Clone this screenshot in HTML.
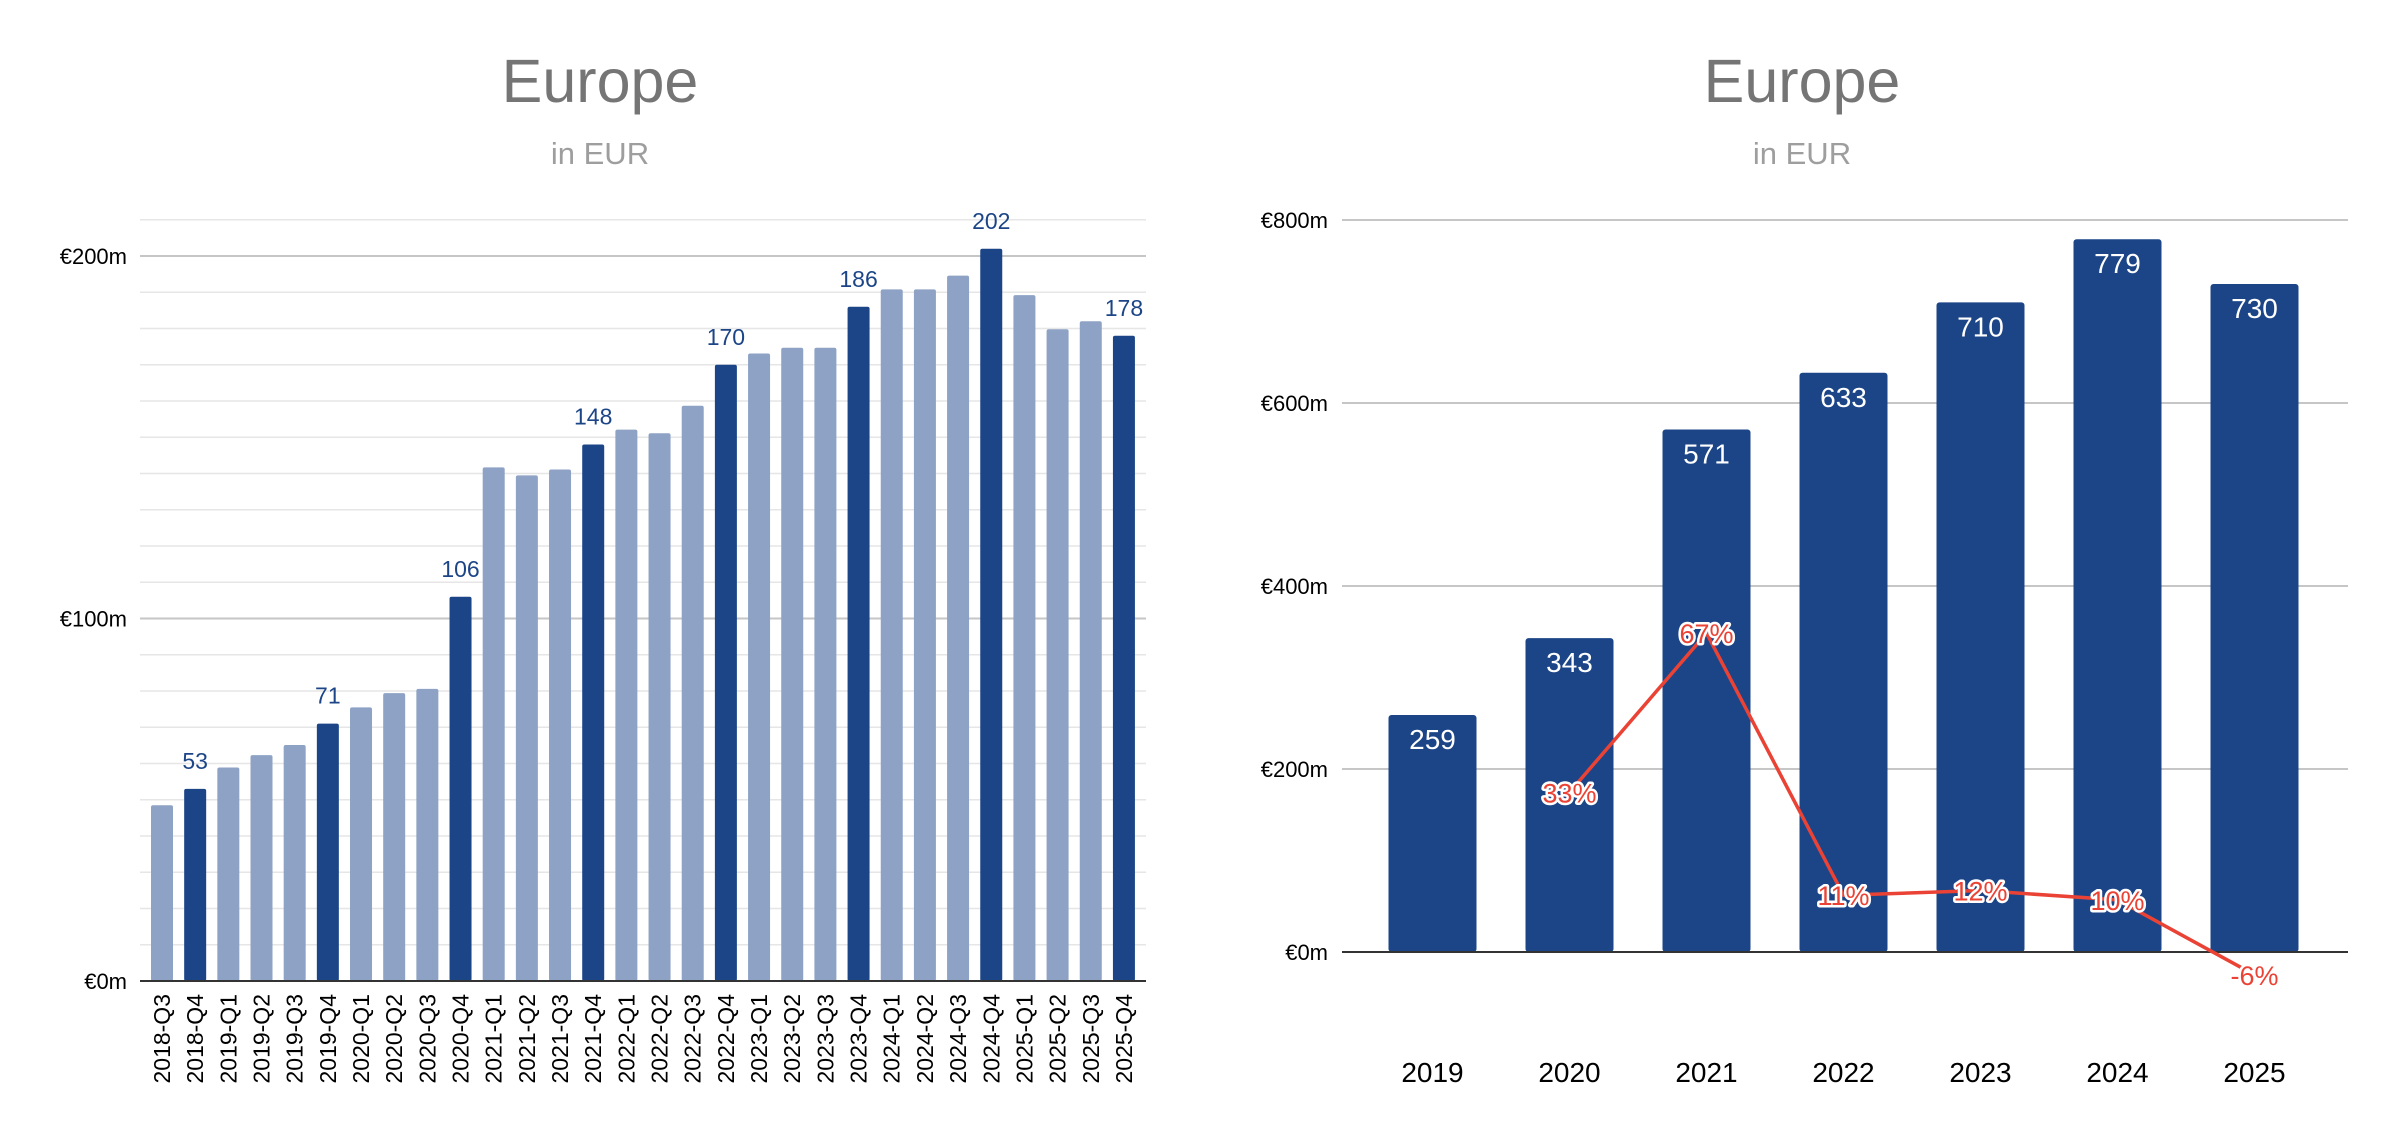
<!DOCTYPE html>
<html><head><meta charset="utf-8"><style>
html,body{margin:0;padding:0;background:#fff;}
svg{display:block;font-family:"Liberation Sans",Arial,sans-serif;}
</style></head><body>
<svg id="svg" width="2393" height="1140" viewBox="0 0 2393 1140" xmlns="http://www.w3.org/2000/svg">
<g id="left">
<text x="600" y="102" text-anchor="middle" font-size="61" fill="#757575">Europe</text>
<text x="600" y="164" text-anchor="middle" font-size="31" fill="#9e9e9e">in EUR</text>
</g>
<g id="right">
<text x="1802" y="102" text-anchor="middle" font-size="61" fill="#757575">Europe</text>
<text x="1802" y="164" text-anchor="middle" font-size="31" fill="#9e9e9e">in EUR</text>
</g>
</svg>
<script>
const qCategories=["2018-Q3","2018-Q4","2019-Q1","2019-Q2","2019-Q3","2019-Q4","2020-Q1","2020-Q2","2020-Q3","2020-Q4","2021-Q1","2021-Q2","2021-Q3","2021-Q4","2022-Q1","2022-Q2","2022-Q3","2022-Q4","2023-Q1","2023-Q2","2023-Q3","2023-Q4","2024-Q1","2024-Q2","2024-Q3","2024-Q4","2025-Q1","2025-Q2","2025-Q3","2025-Q4"];
const qValues=[48.5,53,58.9,62.3,65.1,71,75.5,79.4,80.6,106,141.7,139.5,141.1,148,152.1,151.1,158.7,170,173.1,174.7,174.7,186,190.8,190.8,194.6,202,189.2,179.8,182,178];
const qTicks=[0,100,200];
const qTickLabels=["€0m","€100m","€200m"];
const yCategories=["2019","2020","2021","2022","2023","2024","2025"];
const yValues=[259,343,571,633,710,779,730];
const growthValues=[null,33,67,11,12,10,-6];
const growthLabels=["","33%","67%","11%","12%","10%","-6%"];
const yTicks=[0,200,400,600,800];
const yTickLabels=["€0m","€200m","€400m","€600m","€800m"];

const NS="http://www.w3.org/2000/svg";
function mk(tag,attrs,parent,text){const e=document.createElementNS(NS,tag);for(const k in attrs)e.setAttribute(k,attrs[k]);if(text!==undefined)e.textContent=text;parent.appendChild(e);return e;}
const L=document.getElementById('left'),R=document.getElementById('right');

// left axes
const lx0=140,lx1=1146,lzero=981,lpx=3.625;
const ly=v=>lzero-v*lpx;
const lx=i=>162+i*33.17;
for(let v=10;v<=210;v+=10){
  const major=v%100===0;
  const g=mk('line',{x1:lx0,x2:lx1,y1:ly(v),y2:ly(v),stroke:major?'#c6c6c6':'#e6e6e6','stroke-width':major?2:1.5},L);
  
  
}
qTicks.forEach((t,i)=>{
  const e=mk('text',{x:127,y:ly(t)+8,'text-anchor':'end','font-size':22,fill:'#000'},L,qTickLabels[i]);
  
  
});
qValues.forEach((v,i)=>{
  const q4=qCategories[i].endsWith('Q4');
  const b=mk('rect',{x:lx(i)-11,y:ly(v),width:22,height:v*lpx,rx:2,fill:q4?'#1c4587':'#8da2c4'},L);
  
  
  if(q4){
    const t=mk('text',{x:lx(i),y:ly(v)-20,'text-anchor':'middle','font-size':23,fill:'#1c4587'},L,Math.round(v));
    
    
  }
  const xl=mk('text',{transform:`translate(${lx(i)+8},994) rotate(-90)`,'text-anchor':'end','font-size':23,fill:'#000'},L,qCategories[i]);
  
  
});
const la=mk('line',{x1:lx0,x2:lx1,y1:lzero,y2:lzero,stroke:'#333','stroke-width':2},L);



// right axes
const rx0=1342,rx1=2348,rzero=952,rpx=183/200;
const ry=v=>rzero-v*rpx;
const rx=i=>1432.5+i*137;
const gy=p=>946.7-p*4.68;
yTicks.forEach((t,i)=>{
  if(t>0){const g=mk('line',{x1:rx0,x2:rx1,y1:ry(t),y2:ry(t),stroke:'#c6c6c6','stroke-width':2},R);
  
  }
  const e=mk('text',{x:1328,y:ry(t)+8,'text-anchor':'end','font-size':22,fill:'#000'},R,yTickLabels[i]);
  
  
});
yValues.forEach((v,i)=>{
  const b=mk('rect',{x:rx(i)-44,y:ry(v),width:88,height:v*rpx,rx:3,fill:'#1c4587'},R);
  
  
  const t=mk('text',{x:rx(i),y:ry(v)+34,'text-anchor':'middle','font-size':28,fill:'#fff'},R,v);
  
  
  const xl=mk('text',{x:rx(i),y:1082,'text-anchor':'middle','font-size':28,fill:'#000'},R,yCategories[i]);
  
  
});
const ra=mk('line',{x1:rx0,x2:rx1,y1:rzero,y2:rzero,stroke:'#333','stroke-width':2},R);


let pts=[];
growthValues.forEach((g,i)=>{if(g!==null)pts.push(rx(i)+','+gy(g));});
const pl=mk('polyline',{points:pts.join(' '),fill:'none',stroke:'#ea4335','stroke-width':3.5,'stroke-linejoin':'round'},R);


growthValues.forEach((g,i)=>{
  if(g===null)return;
  const t=mk('text',{x:rx(i),y:gy(g)+10,'text-anchor':'middle','font-size':27,fill:'#ea4335',stroke:'#fff','stroke-width':5,'paint-order':'stroke','stroke-linejoin':'round'},R,growthLabels[i]);
  
  
});
</script>
</body></html>
